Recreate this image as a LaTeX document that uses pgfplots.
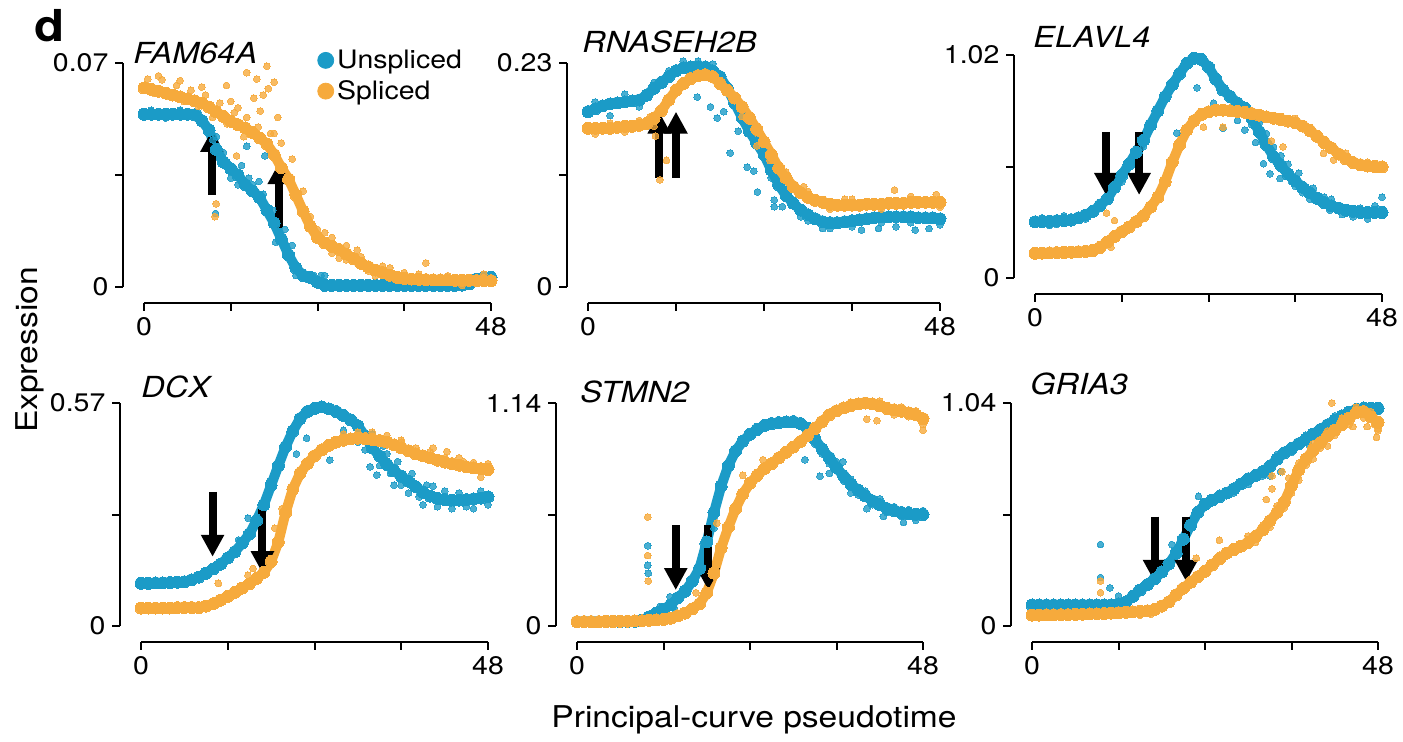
\documentclass[border=0pt]{standalone}
\usepackage{fontspec}
\setmainfont{TeX Gyre Heros}[FakeStretch=1.12]
\usepackage{pgfplots}
\usepackage{pgfplotstable}
\pgfplotsset{compat=1.18}
\usetikzlibrary{arrows.meta}

\definecolor{ublue}{RGB}{27,155,199}
\definecolor{sorange}{RGB}{246,170,60}

% x, unspliced, spliced
\pgfplotstableread{
x u s
0 .0540 .0622
1 .0540 .0618
2 .0540 .0612
3 .0540 .0606
4 .0540 .0600
5 .0540 .0594
6 .0540 .0588
7 .0538 .0582
8 .0520 .0575
9 .0490 .0562
10 .0430 .0547
11 .0390 .0533
12 .0370 .0518
13 .0350 .0507
14 .0320 .0497
15 .0300 .0483
16 .0280 .0466
17 .0240 .0447
18 .0200 .0414
19 .0150 .0373
20 .0100 .0337
21 .0060 .0288
22 .0036 .0237
23 .0030 .0190
24 .0015 .0155
25 .0005 .0138
26 .0005 .0127
27 .0005 .0117
28 .0005 .0103
29 .0005 .0088
30 .0005 .0074
31 .0005 .0063
32 .0005 .0053
33 .0005 .0045
34 .0005 .0037
35 .0005 .0030
36 .0005 .0027
37 .0005 .0025
38 .0005 .0024
39 .0005 .0023
40 .0005 .0022
41 .0005 .0022
42 .0005 .0022
43 .0005 .0021
44 .0006 .0021
45 .0010 .0021
46 .0025 .0020
47 .0030 .0020
48 .0030 .0020
}\tFAM

\pgfplotstableread{
x u s
0 .180 .163
1 .183 .163
2 .186 .163
3 .188 .163
4 .189 .164
5 .190 .165
6 .191 .165
7 .192 .166
8 .197 .168
9 .204 .173
10 .210 .181
11 .216 .192
12 .222 .202
13 .225 .209
14 .226 .214
15 .226 .217
16 .226 .218
17 .222 .216
18 .216 .209
19 .204 .202
20 .189 .194
21 .174 .185
22 .160 .174
23 .148 .162
24 .136 .149
25 .120 .136
26 .105 .122
27 .094 .112
28 .086 .103
29 .079 .097
30 .074 .092
31 .070 .089
32 .067 .087
33 .066 .085
34 .066 .084
35 .067 .084
36 .068 .084
37 .069 .084
38 .070 .085
39 .071 .085
40 .072 .085
41 .072 .086
42 .072 .086
43 .072 .086
44 .072 .087
45 .071 .087
46 .071 .087
47 .071 .087
48 .070 .087
}\tRNA

\pgfplotstableread{
x u s
0 .257 .113
1 .258 .114
2 .260 .115
3 .262 .116
4 .263 .117
5 .265 .118
6 .275 .120
7 .288 .122
8 .305 .126
9 .332 .140
10 .362 .165
11 .415 .190
12 .470 .212
13 .520 .233
14 .575 .258
15 .630 .285
16 .700 .325
17 .765 .370
18 .830 .440
19 .885 .530
20 .935 .610
21 .982 .677
22 1.005 .720
23 1.000 .748
24 .965 .760
25 .910 .768
26 .860 .768
27 .830 .765
28 .800 .762
29 .778 .758
30 .730 .752
31 .670 .745
32 .610 .737
33 .555 .731
34 .515 .725
35 .475 .718
36 .445 .710
37 .415 .695
38 .390 .675
39 .365 .648
40 .345 .620
41 .330 .595
42 .320 .567
43 .310 .545
44 .305 .528
45 .300 .518
46 .300 .512
47 .300 .510
48 .300 .508
}\tELA

\pgfplotstableread{
x u s
0 .109 .046
1 .109 .046
2 .110 .046
3 .110 .046
4 .111 .046
5 .112 .047
6 .113 .047
7 .118 .047
8 .125 .047
9 .135 .051
10 .146 .057
11 .158 .066
12 .174 .076
13 .190 .086
14 .212 .097
15 .235 .108
16 .270 .122
17 .310 .137
18 .360 .165
19 .410 .215
20 .458 .290
21 .498 .350
22 .530 .390
23 .548 .415
24 .556 .435
25 .560 .450
26 .555 .462
27 .548 .470
28 .538 .475
29 .527 .478
30 .512 .480
31 .485 .479
32 .455 .477
33 .435 .474
34 .413 .470
35 .397 .463
36 .383 .455
37 .370 .448
38 .356 .440
39 .342 .435
40 .332 .430
41 .326 .424
42 .323 .419
43 .322 .415
44 .322 .411
45 .323 .407
46 .325 .404
47 .327 .402
48 .330 .400
}\tDCX

\pgfplotstableread{
x u s
0 .022 .022
1 .022 .022
2 .022 .022
3 .022 .022
4 .022 .023
5 .023 .023
6 .023 .024
7 .024 .025
8 .024 .026
9 .030 .027
10 .047 .029
11 .066 .031
12 .086 .034
13 .108 .040
14 .145 .052
15 .178 .066
16 .230 .088
17 .295 .113
18 .430 .170
19 .580 .270
20 .715 .400
21 .820 .505
22 .895 .600
23 .945 .675
24 .980 .730
25 1.005 .770
26 1.025 .805
27 1.035 .830
28 1.040 .860
29 1.043 .888
30 1.045 .915
31 1.035 .943
32 1.010 .975
33 .955 1.010
34 .905 1.045
35 .860 1.080
36 .810 1.100
37 .765 1.115
38 .725 1.127
39 .695 1.135
40 .665 1.140
41 .640 1.135
42 .620 1.125
43 .600 1.112
44 .590 1.105
45 .580 1.098
46 .575 1.090
47 .572 1.080
48 .570 1.060
}\tSTM

\pgfplotstableread{
x u s
0 .098 .051
1 .098 .051
2 .098 .052
3 .098 .052
4 .098 .053
5 .098 .053
6 .098 .054
7 .098 .055
8 .098 .056
9 .098 .057
10 .098 .058
11 .099 .060
12 .103 .062
13 .112 .064
14 .138 .066
15 .168 .068
16 .193 .071
17 .220 .077
18 .252 .093
19 .290 .113
20 .340 .145
21 .405 .176
22 .470 .204
23 .530 .230
24 .568 .255
25 .587 .285
26 .603 .313
27 .620 .340
28 .640 .357
29 .663 .373
30 .685 .390
31 .702 .418
32 .720 .448
33 .745 .490
34 .778 .530
35 .808 .578
36 .828 .655
37 .850 .728
38 .872 .778
39 .895 .820
40 .916 .855
41 .938 .886
42 .960 .914
43 .980 .940
44 .998 .970
45 1.010 .995
46 1.015 1.000
47 1.015 .975
48 1.015 .950
}\tGRI

\pgfplotsset{
  panel/.style={
    scale only axis, clip=false, anchor=origin,
    axis x line*=bottom, axis y line*=left,
    x axis line style={-, line width=1pt, shorten <=10.5pt},
    y axis line style={-, line width=1pt, shorten <=8pt},
    tick align=outside, major tick length=3.8pt,
    tick style={black, line width=1pt},
    xmax=48, scaled y ticks=false,
    xtick={0,12,24,36,48}, xticklabels={0,,,,48},
    /pgf/number format/assume math mode=true,
    tick label style={font=\fontsize{12.7}{15}\selectfont},
  },
  band/.style={#1, line width=5pt, line join=round, line cap=round,
    mark=*, mark size=3pt, mark options={solid, line width=0pt}, forget plot},
  spots/.style={#1, only marks, mark=*, mark size=1.7pt,
    mark options={draw=#1, fill=#1, line width=0pt}, opacity=0.8, forget plot},
}
\tikzset{
  arr/.style={line width=4pt, -{Triangle[length=11pt,width=11pt]}},
  gene/.style={anchor=base west, inner xsep=0pt, font=\itshape\fontsize{14.5}{16}\selectfont},
}

\begin{document}
\begin{tikzpicture}
\useasboundingbox (0,0) rectangle (701.5pt,370.5pt);

% FAM64A
\begin{axis}[panel, at={(72pt,227pt)}, width=184pt, height=120pt,
  xmin=-2.905, ymin=-0.005, ymax=0.07,
  ytick={0,0.035,0.07}, yticklabels={0,,0.07},
  legend style={at={(0.527,1.07)}, anchor=north west, draw=none, fill=none,
    font=\fontsize{12.7}{15}\selectfont, inner sep=0pt, row sep=1.5pt,
    nodes={inner sep=1.5pt}},
  legend cell align=left]
\addlegendimage{legend image code/.code={\fill[ublue] (4pt,0pt) circle (4pt);}}
\addlegendentry{Unspliced}
\addlegendimage{legend image code/.code={\fill[sorange] (4pt,0pt) circle (4pt);}}
\addlegendentry{Spliced}
\addplot[band=ublue] table[x=x,y=u]{\tFAM};
\addplot[spots=ublue] coordinates {(14.2,0.044) (16.7,0.041) (9.9,0.023) (15.9,0.033)
  (13,0.032) (14,0.032) (15,0.032) (15.5,0.029) (16.5,0.029) (17,0.024) (17.8,0.024)
  (18.2,0.014) (19,0.014) (21,0.0036) (22,0.0036) (23.5,0.0036) (24.5,0.0036)
  (10.5,0.040) (11.5,0.039) (12.3,0.037)
  (1,.0552) (3,.0528) (5,.0553) (7.5,.0545) (8.5,.0505) (9.5,.046) (10,.047)
  (11,.042) (12,.034) (13.5,.038) (14.5,.034) (19.5,.018) (20.5,.013) (22.5,.0025)
  (25,.0036)};
\addplot[band=sorange] table[x=x,y=s]{\tFAM};
\addplot[spots=sorange] coordinates {(14.2,0.067) (17,0.069) (15.6,0.065) (18,0.064)
  (11.4,0.063) (15.2,0.059) (16.1,0.055) (14.2,0.053) (13.3,0.05) (18.5,0.053)
  (18,0.048) (12.8,0.041) (10,0.026) (9.8,0.022) (19.9,0.034) (21.4,0.029)
  (17.2,0.062) (16.5,0.06) (13,0.056) (12,0.058) (26,0.0155) (28,0.013) (30,0.0095)
  (33,0.0065) (38,0.004) (41,0.0025) (24,0.018) (27,0.009) (31,0.005) (39,0.0075)
  (0.5,.065) (1.5,.0605) (2.5,.0648) (3.5,.0595) (4.5,.063) (5.5,.058) (6.5,.0615)
  (7.5,.0565) (8.5,.06) (9.5,.053) (10.5,.0575) (11.5,.051) (2,.066) (5,.0645)
  (8,.0625) (12.5,.0545) (13.8,.047) (15.8,.05) (17.5,.048) (19,.045) (20.5,.04)
  (22,.03) (23,.022) (25,.017) (26,.0105) (28,.0085) (29.5,.0115) (32,.0035)
  (34,.006) (36,.0045) (42,.0035) (44,.0005) (47,.004)};
\draw[arr] (axis cs:9.4,0.0288) -- (axis cs:9.4,0.0491);
\draw[arr] (axis cs:18.7,0.0184) -- (axis cs:18.7,0.039);
\node[gene, xshift=-5.5pt] at (axis cs:0,0.07) {FAM64A};
\end{axis}

% RNASEH2B
\begin{axis}[panel, at={(294pt,227pt)}, width=186.5pt, height=120pt,
  xmin=-2.864, ymin=-0.01643, ymax=0.23,
  ytick={0,0.115,0.23}, yticklabels={0,,0.23}]
\addplot[band=ublue] table[x=x,y=u]{\tRNA};
\addplot[spots=ublue] coordinates {(14.9,.195) (16.7,.185) (17.6,.1735) (19.4,.1376)
  (21.7,.123) (22.6,.119) (23.1,.0976) (25.4,.0893) (25.4,.0825) (26.5,.0825)
  (37.3,.0585) (39.6,.06) (44.6,.0585) (18.5,.18) (20.5,.16) (46.5,.06) (42,.062)
  (32,.06) (29,.072)
  (1,.19) (3,.176) (5,.198) (7,.185) (9,.21) (11,.222) (13,.232) (15,.232) (17,.229)
  (25,.112) (27,.1) (30,.068) (33,.060) (36,.062) (40,.066) (44,.066) (48,.064)};
\addplot[band=sorange] table[x=x,y=s]{\tRNA};
\addplot[spots=sorange] coordinates {(9.8,.11) (10.7,.13) (41.8,.0996) (29.4,.103)
  (8.5,.175) (24.8,.13) (23,.145) (21,.175) (35,.09) (47.5,.095) (9.2,.155)
  (1,.157) (3,.168) (5,.159) (7,.171) (9,.165) (27,.118) (30,.098) (33,.08) (36,.09)
  (40,.08) (44,.093) (48,.082)};
\draw[arr] (axis cs:9.7,0.112) -- (axis cs:9.7,0.180);
\draw[arr] (axis cs:12,0.112) -- (axis cs:12,0.180);
\node[gene, xshift=-3pt, yshift=5pt] at (axis cs:0,0.23) {RNASEH2B};
\end{axis}

% ELAVL4
\begin{axis}[panel, at={(517.5pt,231.5pt)}, width=184pt, height=119.5pt,
  xmin=-2.905, ymin=-0.07318, ymax=1.02,
  ytick={0,0.51,1.02}, yticklabels={0,,1.02}]
\addplot[band=ublue] table[x=x,y=u]{\tELA};
\addplot[spots=ublue] coordinates {(19.6,.663) (22.4,.87) (24.7,.80) (26,.685)
  (29,.677) (31.6,.523) (32.5,.477) (33.9,.455) (40.8,.31) (48,.37) (30.5,.62)
  (34,.5) (36,.42) (28,.72) (46,.27) (44,.28) (38,.36) (12,.44) (15,.6)
  (29.5,.74) (30,.70) (31,.71) (31.5,.62) (32,.66) (32.5,.58) (33,.6) (33.5,.52)
  (34,.56) (35,.52) (35.5,.44) (36.5,.48) (37,.39) (38.5,.41) (40,.37) (41,.36)
  (42.5,.29) (45,.32) (47,.33) (1,.275) (3,.245) (5,.28) (7,.27) (2,.24) (4,.285)};
\addplot[band=sorange] table[x=x,y=s]{\tELA};
\addplot[spots=sorange] coordinates {(9.9,.297) (11,.263) (23.3,.69) (26,.69)
  (32.7,.627) (34.3,.6) (39.9,.57) (41.3,.54) (10.5,.14) (36,.73) (43,.57) (46,.53)};
\draw[arr] (axis cs:9.8,0.668) -- (axis cs:9.8,0.38);
\draw[arr] (axis cs:14.4,0.668) -- (axis cs:14.4,0.38);
\node[gene, xshift=-1pt, yshift=3.5pt] at (axis cs:0,1.02) {ELAVL4};
\end{axis}

% DCX
\begin{axis}[panel, at={(70.5pt,57.5pt)}, width=184pt, height=119.5pt,
  xmin=-2.905, ymin=-0.0409, ymax=0.57,
  ytick={0,0.285,0.57}, yticklabels={0,,0.57}]
\addplot[band=ublue] table[x=x,y=u]{\tDCX};
\addplot[spots=ublue] coordinates {(22.9,.48) (26.1,.424) (31.7,.407) (32.6,.386)
  (40.4,.357) (18.3,.356) (14.8,.276) (17.8,.37) (21.5,.44) (28,.5) (30,.47) (35,.36)
  (37,.34) (39,.31) (43,.30) (46,.30) (13.5,.22) (34,.44)
  (31,.45) (32,.49) (33,.41) (33.5,.46) (34.5,.39) (35.5,.42) (36,.36) (37.5,.39)
  (38.5,.33) (39.5,.36) (41,.305) (42,.345) (44,.34) (45,.305) (47,.345) (48,.31)};
\addplot[band=sorange] table[x=x,y=s]{\tDCX};
\addplot[spots=sorange] coordinates {(10.7,.109) (13,.093) (14.8,.13) (15.5,.147)
  (42.3,.446) (44.6,.42) (40.4,.455) (18.5,.25) (19.5,.3) (47,.38) (36,.47)
  (36,.475) (38,.455) (40,.445) (42,.43) (44,.43) (46,.418) (48,.415) (30,.495)
  (32,.495) (34,.487) (28,.49)};
\draw[arr] (axis cs:9.9,0.343) -- (axis cs:9.9,0.177);
\draw[arr] (axis cs:16.8,0.30) -- (axis cs:16.8,0.135);
\node[gene, yshift=2.5pt] at (axis cs:0,0.57) {DCX};
\end{axis}

% STMN2
\begin{axis}[panel, at={(288.5pt,57.5pt)}, width=183.5pt, height=119.5pt,
  xmin=-2.913, ymin=-0.0818, ymax=1.14,
  ytick={0,0.57,1.14}, yticklabels={0,,1.14}]
\addplot[band=ublue] table[x=x,y=u]{\tSTM};
\addplot[spots=ublue] coordinates {(12.9,.15) (14.3,.16) (16.1,.24) (31.6,.85)
  (33.7,.765) (36.9,.84) (42.5,.56) (45.3,.53) (40.2,.6) (9.8,.41) (9.8,.31)
  (9.9,.27) (11.5,.1) (13.5,.09) (35,.78) (38,.68) (47,.54) (17.5,.42) (19,.5)
  (34,.88) (35,.83) (36,.84) (37,.74) (38,.75) (39,.67) (40,.69) (41,.62) (42,.65)
  (43,.58) (44,.61) (45,.56) (46,.595) (47,.555) (48,.59) (33,.93) (32.5,.97)};
\addplot[band=sorange] table[x=x,y=s]{\tSTM};
\addplot[spots=sorange] coordinates {(9.8,.557) (9.8,.36) (9.9,.23) (23,.77)
  (25.8,.85) (40.2,1.057) (41.6,1.05) (19.4,.525) (16.5,.17) (48,1.0) (44,1.08)
  (44,1.12) (45,1.12) (46,1.07) (47,1.1) (48,1.03) (38,1.145) (42,1.15)};
\draw[arr] (axis cs:13.7,0.516) -- (axis cs:13.7,0.184);
\draw[arr] (axis cs:18.2,0.516) -- (axis cs:18.2,0.184);
\node[gene, xshift=1.5pt, yshift=0.5pt] at (axis cs:0,1.14) {STMN2};
\end{axis}

% GRIA3
\begin{axis}[panel, at={(516pt,57.5pt)}, width=183.5pt, height=119.5pt,
  xmin=-2.913, ymin=-0.0746, ymax=1.04,
  ytick={0,0.52,1.04}, yticklabels={0,,1.04}]
\addplot[band=ublue] table[x=x,y=u]{\tGRI};
\addplot[spots=ublue] coordinates {(9.5,.38) (9.5,.226) (10.8,.178) (23.1,.605)
  (19.4,.38) (33,.70) (34.5,.72) (30,.66) (12,.14) (14.5,.17) (38.5,.84) (44,.96)
  (47,.99) (26,.62) (28,.62) (30,.70) (32,.70) (34,.80) (36,.81) (38,.89) (40,.90)
  (42,.98) (44,.98) (46,1.03) (48,1.0)};
\addplot[band=sorange] table[x=x,y=s]{\tGRI};
\addplot[spots=sorange] coordinates {(9.5,.21) (9.5,.155) (26,.40) (22.8,.316)
  (33.3,.70) (34.7,.72) (35.6,.69) (33.3,.64) (32.5,.59) (41.6,1.04) (43,.97)
  (47.8,.88) (48,.91) (46.5,.93) (44.5,.93) (39,.78) (41,.84) (37,.68) (15,.05)
  (16.5,.055) (30,.42) (31,.39) (32,.47) (33,.46) (34,.56) (35,.55) (36,.62)
  (37,.76) (38,.75) (39,.85) (40,.83) (41,.91) (42,.89) (43,.97) (44,.94) (45,1.02)
  (46,.97) (47,1.0) (48,.92) (47.5,.94) (28,.37) (26,.33)};
\draw[arr] (axis cs:17,0.51) -- (axis cs:17,0.206);
\draw[arr] (axis cs:21.4,0.51) -- (axis cs:21.4,0.206);
\node[gene, xshift=-1pt, yshift=4pt] at (axis cs:0,1.04) {GRIA3};
\end{axis}

\node[anchor=base west, font=\bfseries\fontsize{22}{22}\selectfont] at (13.5pt,349.5pt) {d};
\node[rotate=90, font=\fontsize{15}{17}\selectfont] at (15pt,195.5pt) {Expression};
\node[anchor=base, font=\fontsize{15}{17}\selectfont] at (377pt,7pt) {Principal-curve pseudotime};
\end{tikzpicture}
\end{document}
